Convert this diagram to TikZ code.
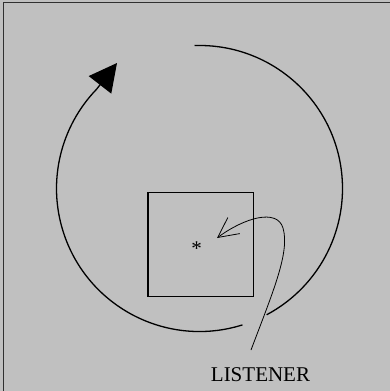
\documentclass[tikz,border=0pt]{standalone}
\usepackage{fontspec}
\setmainfont{Liberation Serif}
\usetikzlibrary{arrows.meta}
\definecolor{bgcol}{HTML}{C0C0C0}
\definecolor{framecol}{HTML}{303030}
\begin{document}
\begin{tikzpicture}[x=1pt,y=-1pt,
  orbit/.style={line width=1.3pt,black},
  room/.style={line width=1.3pt,black},
  pointer/.style={line width=0.8pt,black},
  lbl/.style={font=\fontsize{21}{25}\selectfont,inner sep=0pt}]
\useasboundingbox (0,0) rectangle (390,391);
\fill[bgcol] (0,0) rectangle (390,391);
\draw[framecol,line width=1.6pt] (3.5,391) -- (3.5,2.5) -- (390,2.5);
\coordinate (c) at (199.5,188.5);
% main orbit, first part
\draw[orbit] (c) ++(-92:143) arc[start angle=-92,end angle=62,radius=143];
% second part with arrow
\coordinate (tipA) at (117,63);
\draw[orbit,-{Triangle[length=27.7pt,width=28.3pt]}] (c) ++(72.5:143) arc[start angle=72.5,end angle=224,radius=143] -- (tipA);
% room
\node[room,draw,minimum width=105.3pt,minimum height=104.4pt,inner sep=0pt] (box) at (200.7,244.5) {};
% listener
\node[lbl,anchor=base] (ast) at (196.7,255.6) {*};
\node[lbl,anchor=base] (listener) at (260.5,381) {LISTENER};
\coordinate (lstart) at (251,350);
\coordinate (ltip) at (217,238);
\draw[pointer,-{Straight Barb[length=20pt,width=20pt,line width=0.8pt]}] (lstart) .. controls (273.4,290.8) and (290,252) .. (283,228) .. controls (277,208) and (244,218) .. (ltip);
\end{tikzpicture}
\end{document}
